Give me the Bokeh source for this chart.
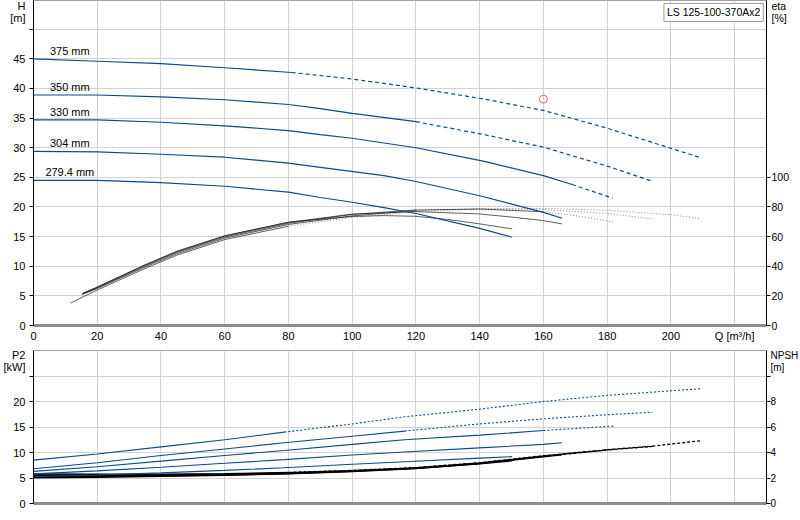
from bokeh.plotting import figure
from bokeh.models import Range1d, LinearAxis, FixedTicker, Label, ColumnDataSource
from bokeh.layouts import column
from bokeh.embed import file_html
from bokeh.resources import INLINE
from bokeh.core.properties import value

FONT = "Liberation Sans"
BLUE = "#0d4a8a"

diameters = ["375 mm", "350 mm", "330 mm", "304 mm", "279.4 mm"]
solid_limit = [81, 120, 169, 999, 999]

# ---- H curves (Q m3/h, H m)
q_h375 = [0, 20, 40, 60, 81, 100, 120, 141.5, 160, 180, 200, 209.5]
h_375 = [45.0, 44.6, 44.2, 43.5, 42.7, 41.6, 40.1, 38.2, 36.3, 33.3, 29.9, 28.3]
q_h350 = [0, 20, 40, 60, 80, 90, 100, 120, 141.5, 160, 180, 194.4]
h_350 = [38.9, 38.9, 38.6, 38.1, 37.3, 36.6, 35.8, 34.4, 32.2, 30.1, 26.9, 24.3]
q_h330 = [0, 20, 40, 60, 80, 90, 100, 120, 141.5, 160, 169, 181.7]
h_330 = [34.7, 34.7, 34.3, 33.7, 32.9, 32.2, 31.6, 30.0, 27.7, 25.3, 23.8, 21.5]
q_h304 = [0, 20, 40, 60, 80, 90, 110, 120, 140, 160, 165.9]
h_304 = [29.4, 29.3, 28.9, 28.4, 27.4, 26.7, 25.3, 24.3, 21.9, 19.1, 18.1]
q_h279 = [0, 20, 40, 60, 80, 90, 100, 110, 120, 140, 150.2]
h_279 = [24.5, 24.5, 24.1, 23.5, 22.5, 21.6, 20.8, 19.9, 18.9, 16.4, 14.9]

# ---- efficiency curves (Q, eta %)
q_e375 = [11.6, 20, 35, 45, 60, 80, 100, 120, 140, 160, 180, 200, 209.3]
e_375 = [15.1, 24.0, 38.5, 47.5, 58.0, 67.0, 73.0, 76.8, 78.6, 79.0, 77.8, 74.8, 72.0]
q_e350 = [15.3, 20, 35, 45, 60, 80, 100, 120, 140, 160, 180, 194.3]
e_350 = [21.0, 25.0, 39.5, 48.5, 59.0, 68.2, 74.0, 77.6, 78.9, 78.3, 75.6, 72.0]
q_e330 = [15.3, 20, 35, 45, 60, 80, 100, 120, 140, 160, 170, 182.3]
e_330 = [21.2, 25.4, 40.2, 49.3, 59.8, 69.0, 75.0, 78.0, 78.6, 76.8, 74.2, 69.8]
q_e304 = [15.3, 20, 35, 45, 60, 80, 100, 120, 140, 150, 160, 165.8]
e_304 = [21.4, 25.8, 40.8, 49.8, 60.4, 69.6, 75.2, 76.9, 75.3, 73.2, 70.8, 68.6]
q_e279 = [15.3, 20, 35, 45, 60, 80, 100, 110, 120, 130, 140, 150.2]
e_279 = [21.6, 26.0, 41.0, 50.2, 60.6, 69.8, 73.6, 74.2, 73.7, 71.6, 68.6, 65.2]

# ---- P2 curves (Q, kW)
q_p375 = [0, 20, 40, 60, 78.7, 100, 116.4, 140, 160, 180, 200, 209.3]
p_375 = [8.5, 9.7, 11.1, 12.5, 14.0, 15.6, 17.0, 18.5, 20.0, 21.2, 22.1, 22.5]
q_p350 = [0, 20, 40, 60, 78.7, 100, 116.4, 140, 160, 180, 194.3]
p_350 = [6.8, 8.0, 9.4, 10.7, 11.9, 13.2, 14.2, 15.6, 16.6, 17.4, 17.9]
q_p330 = [0, 20, 40, 60, 78.7, 100, 116.4, 140, 160, 182.3]
p_330 = [6.3, 7.2, 8.3, 9.4, 10.4, 11.6, 12.5, 13.4, 14.3, 15.2]
q_p304 = [0, 20, 40, 60, 78.7, 100, 116.4, 140, 160, 165.8]
p_304 = [5.8, 6.4, 7.1, 7.9, 8.6, 9.5, 10.1, 10.9, 11.6, 11.9]
q_p279 = [0, 20, 40, 60, 78.7, 100, 116.4, 140, 150.2]
p_279 = [5.3, 5.6, 6.0, 6.5, 7.0, 7.7, 8.2, 8.9, 9.2]

# ---- NPSH curves (Q, m)
q_n375 = [0, 20, 40, 60, 80, 100, 120, 140, 160, 180, 194.3, 209.3]
n_375 = [2.32, 2.30, 2.30, 2.34, 2.44, 2.60, 2.82, 3.20, 3.75, 4.22, 4.50, 4.92]
q_n350 = [0, 20, 40, 60, 80, 100, 120, 140, 160, 180, 194.3]
n_350 = [2.25, 2.24, 2.25, 2.30, 2.41, 2.58, 2.80, 3.18, 3.72, 4.20, 4.48]
q_n330 = [0, 20, 40, 60, 80, 100, 120, 140, 160, 182.3]
n_330 = [2.18, 2.18, 2.20, 2.26, 2.38, 2.55, 2.78, 3.15, 3.70, 4.25]
q_n304 = [0, 20, 40, 60, 80, 100, 120, 140, 160, 165.8]
n_304 = [2.10, 2.12, 2.16, 2.23, 2.35, 2.52, 2.76, 3.13, 3.66, 3.82]
q_n279 = [0, 20, 40, 60, 80, 100, 120, 140, 150.2]
n_279 = [2.02, 2.06, 2.12, 2.20, 2.33, 2.50, 2.74, 3.10, 3.35]

duty_q = [160]
duty_h = [38.2]

q_ticks = [0, 20, 40, 60, 80, 100, 120, 140, 160, 180, 200, 220]
h_ticks = [0, 5, 10, 15, 20, 25, 30, 35, 40, 45]
h_grid = [0, 5, 10, 15, 20, 25, 30, 35, 40, 45, 50]
eta_ticks = [0, 20, 40, 60, 80, 100]
p2_ticks = [0, 5, 10, 15, 20]
p2_grid = [0, 5, 10, 15, 20, 25]
npsh_ticks = [0, 2, 4, 6, 8]
npsh_marks = [0, 2, 4, 6, 8, 10]

H_Q = [q_h375, q_h350, q_h330, q_h304, q_h279]
H_V = [h_375, h_350, h_330, h_304, h_279]
E_Q = [q_e375, q_e350, q_e330, q_e304, q_e279]
E_V = [e_375, e_350, e_330, e_304, e_279]
P_Q = [q_p375, q_p350, q_p330, q_p304, q_p279]
P_V = [p_375, p_350, p_330, p_304, p_279]
N_Q = [q_n375, q_n350, q_n330, q_n304, q_n279]
N_V = [n_375, n_350, n_330, n_304, n_279]


def draw(p, q, v, qlim, color, width, dash, dash_color=None, rng="default"):
    k = max(i for i, x in enumerate(q) if x <= qlim)
    p.line(q[:k + 1], v[:k + 1], line_color=color, line_width=width, y_range_name=rng)
    if k < len(q) - 1:
        p.line(q[k:], v[k:], line_color=dash_color or color, line_width=width,
               line_dash=dash, y_range_name=rng)


def set_axis(ax, labels, marks, titles, size="11px", standoff=4):
    # labelled positions (no tick mark) + tick marks drawn as minor ticks
    ticks = list(labels) + [t[0] for t in titles]
    ax.ticker = FixedTicker(ticks=ticks, minor_ticks=list(marks))
    ax.major_label_overrides = {t[0]: t[1] for t in titles}
    ax.major_label_text_font = FONT
    ax.major_label_text_font_size = size
    ax.major_label_text_color = "#000000"
    ax.axis_line_color = "#000000"
    ax.major_tick_line_color = None
    ax.major_tick_out = 4
    ax.major_tick_in = 0
    ax.minor_tick_line_color = "#000000"
    ax.minor_tick_out = 4
    ax.minor_tick_in = 0
    ax.major_label_standoff = standoff


def style_common(p, xlabels):
    p.background_fill_color = "white"
    p.border_fill_color = "white"
    p.outline_line_color = "#a0a0a0"
    p.xgrid.grid_line_color = "#d2d2d2"
    p.ygrid.grid_line_color = "#d2d2d2"
    ax = p.xaxis[0]
    ax.ticker = FixedTicker(ticks=q_ticks)
    ax.major_label_text_font = FONT
    ax.major_label_text_font_size = "11px" if xlabels else "1px"
    ax.major_label_text_color = "#000000" if xlabels else None
    ax.axis_line_color = "#8c8c8c"
    ax.axis_line_width = 3
    ax.major_tick_line_color = None
    ax.major_tick_out = 0
    ax.major_tick_in = 0
    ax.minor_tick_line_color = None
    ax.minor_tick_out = 0
    ax.minor_tick_in = 0
    ax.major_label_standoff = 4 if xlabels else 0


# ================= top chart =================
p1 = figure(frame_width=733, frame_height=325, x_range=Range1d(0, 230), y_range=Range1d(0, 54.85),
            output_backend="svg", toolbar_location=None,
            min_border_left=29, min_border_right=38, min_border_top=0, min_border_bottom=20)
p1.extra_y_ranges = {"eta": Range1d(0, 219.4)}
p1.add_layout(LinearAxis(y_range_name="eta"), "right")
style_common(p1, True)
p1.xaxis[0].major_label_overrides = {220: "Q [m³/h]"}
set_axis(p1.yaxis[0], h_ticks, h_grid, [(53.9, "H"), (51.9, "[m]")])
set_axis(p1.yaxis[1], eta_ticks, eta_ticks, [(215.6, "eta"), (207.6, "[%]")], "10.5px", 1)
p1.ygrid.ticker = FixedTicker(ticks=h_grid)

for i in range(5):
    draw(p1, E_Q[i], E_V[i], solid_limit[i], "#1a1a1a", 0.7, "1 2", "#555555", rng="eta")
for i in range(5):
    draw(p1, H_Q[i], H_V[i], solid_limit[i], BLUE, 1.2, "4 3")

src = ColumnDataSource(dict(x=[q[0] + 11.4 for q in H_Q], y=[h[0] + 1.4 for h in H_V], t=diameters))
p1.text(x="x", y="y", text="t", source=src, text_font=value(FONT), text_font_size="11px",
        text_color="#000000", text_align="center", text_baseline="middle")

p1.scatter(duty_q, duty_h, marker="circle", size=8, fill_color=None, line_color="#e8706f", line_width=1)

p1.add_layout(Label(x=229.0, y=54.35, text="LS 125-100-370Ax2", text_font=FONT, text_font_size="10.5px",
                    text_color="#000000", text_align="right", text_baseline="top",
                    background_fill_color="white", border_line_color="#9a9a9a", padding=3))

# ================= bottom chart =================
p2 = figure(frame_width=733, frame_height=153, x_range=p1.x_range, y_range=Range1d(0, 30),
            output_backend="svg", toolbar_location=None,
            min_border_left=29, min_border_right=38, min_border_top=5, min_border_bottom=6)
p2.extra_y_ranges = {"npsh": Range1d(0, 12)}
p2.add_layout(LinearAxis(y_range_name="npsh"), "right")
style_common(p2, False)
set_axis(p2.yaxis[0], p2_ticks, p2_grid, [(29.1, "P2"), (26.8, "[kW]")])
set_axis(p2.yaxis[1], npsh_ticks, npsh_marks, [(11.62, "NPSH"), (10.7, "[m]")], "10px", 0)
p2.ygrid.ticker = FixedTicker(ticks=p2_grid)

for i in range(5):
    draw(p2, N_Q[i], N_V[i], solid_limit[i], "#000000", 1.3, "3 2", rng="npsh")
for i in range(5):
    draw(p2, P_Q[i], P_V[i], solid_limit[i], BLUE, 1.1, "2 2")

layout = column(p1, p2, spacing=0)
open("out.html", "w").write(file_html(layout, INLINE))
